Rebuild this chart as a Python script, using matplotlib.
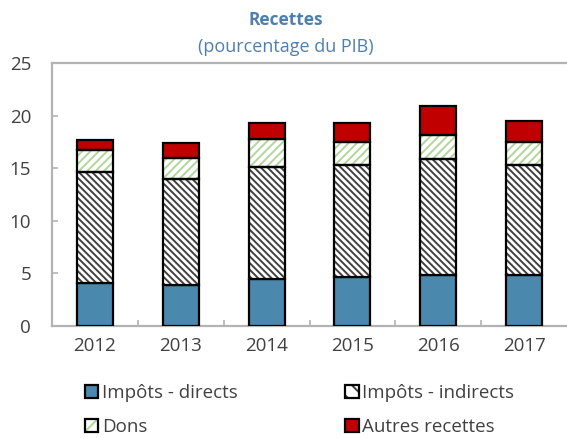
import matplotlib
matplotlib.use("Agg")
import matplotlib.pyplot as plt
from matplotlib.patches import Patch
from matplotlib.legend_handler import HandlerTuple
import numpy as np

years = ["2012", "2013", "2014", "2015", "2016", "2017"]
directs = [4.1, 3.9, 4.5, 4.7, 4.85, 4.85]
indirects = [10.5, 10.1, 10.65, 10.6, 11.0, 10.45]
dons = [2.15, 2.0, 2.65, 2.15, 2.35, 2.15]
autres = [0.95, 1.35, 1.5, 1.85, 2.75, 2.0]

plt.rcParams['font.family'] = ['Open Sans', 'DejaVu Sans']
plt.rcParams['hatch.linewidth'] = 1.4

W, H = 567, 438
fig = plt.figure(figsize=(W / 100, H / 100), dpi=100)
ax = fig.add_axes([52 / W, (H - 326) / H, 515 / W, (326 - 63) / H])

x = np.arange(len(years))
bw = 0.42
blue = '#4a89ad'
red = '#c00000'
green = '#b3d69b'
spine = '#b3b3b3'
hatch_ind = '\\' * 5

d = np.array(directs)
i = np.array(indirects)
g = np.array(dons)
a = np.array(autres)

ax.bar(x, d, bw, color=blue, edgecolor='black', linewidth=1.6, zorder=3)
ax.bar(x, i, bw, bottom=d, color='white', edgecolor='#404040', hatch=hatch_ind, linewidth=0, zorder=3)
ax.bar(x, i, bw, bottom=d, fill=False, edgecolor='black', linewidth=1.6, zorder=4)
ax.bar(x, g, bw, bottom=d + i, color='white', edgecolor=green, hatch='////', linewidth=0, zorder=3)
ax.bar(x, g, bw, bottom=d + i, fill=False, edgecolor='black', linewidth=1.6, zorder=4)
ax.bar(x, a, bw, bottom=d + i + g, color=red, edgecolor='black', linewidth=1.6, zorder=3)

ax.set_xlim(-0.5, len(years) - 0.5)
ax.set_ylim(0, 25)
ax.set_yticks([0, 5, 10, 15, 20, 25])
ax.set_xticks(x)
ax.set_xticklabels(years)
ax.set_xticks(np.arange(0.5, len(years) - 1, 1), minor=True)
ax.tick_params(axis='x', which='major', length=0, pad=8, labelsize=13.5, labelcolor='#404040')
ax.tick_params(axis='x', which='minor', direction='in', length=4, color=spine, width=1.2)
ax.tick_params(axis='y', direction='in', length=4, color=spine, width=1.2, pad=15,
               labelsize=13.5, labelcolor='#404040')
for s in ['left', 'bottom', 'top']:
    ax.spines[s].set_color(spine)
    ax.spines[s].set_linewidth(1.6)
ax.spines['right'].set_visible(False)

title_color = '#4e80ae'
fig.text(286 / W, 1 - 20 / H, 'Recettes', ha='center', va='center', fontsize=12.5,
         fontweight='bold', color=title_color)
fig.text(286 / W, 1 - 47 / H, '(pourcentage du PIB)', ha='center', va='center', fontsize=13,
         color=title_color)

h1 = Patch(facecolor=blue, edgecolor='black', linewidth=1.6)
h2 = (Patch(facecolor='white', edgecolor='#404040', hatch='\\\\', linewidth=0),
      Patch(fill=False, edgecolor='black', linewidth=1.6))
h3 = (Patch(facecolor='white', edgecolor=green, hatch='//', linewidth=0),
      Patch(fill=False, edgecolor='black', linewidth=1.6))
h4 = Patch(facecolor=red, edgecolor='black', linewidth=1.6)

leg = fig.legend([h1, h3, h2, h4],
                 ['Impôts - directs', 'Dons', 'Impôts - indirects', 'Autres recettes'],
                 handler_map={tuple: HandlerTuple(ndivide=1, pad=0)},
                 loc='upper left', bbox_to_anchor=(85 / W, 1 - 384 / H), ncol=2,
                 frameon=False, fontsize=13.5, handlelength=0.7, handleheight=0.7,
                 handletextpad=0.2, columnspacing=5.75, labelspacing=0.85,
                 borderpad=0, borderaxespad=0)
for t in leg.get_texts():
    t.set_color('#404040')

fig.savefig('out.png', dpi=100)
